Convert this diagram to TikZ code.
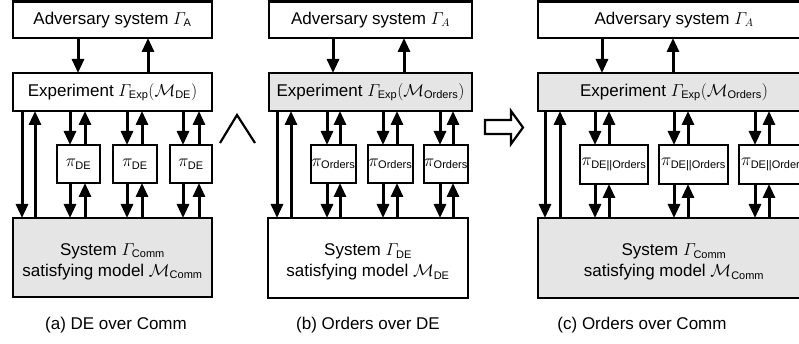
\documentclass[tikz,border=0pt]{standalone}
\usepackage{amsmath}
\usepackage{fontspec}
\setmainfont{Liberation Sans}
\usetikzlibrary{arrows.meta}
\DeclareMathSizes{17}{17}{11}{8}
\tikzset{
  box/.style={draw, line width=2.8pt, inner sep=0pt, outer sep=0pt, anchor=north west, align=center,
              font=\fontsize{17}{19}\selectfont},
  shaded/.style={fill=gray!20},
  arr/.style={line width=3pt, -{Triangle[length=14pt,width=12pt]}},
  txt/.style={font=\fontsize{17}{21}\selectfont, inner sep=0pt, align=center},
  captext/.style={font=\fontsize{17}{19}\selectfont, inner sep=0pt},
  symb/.style={line width=2.2pt, line join=miter},
}
\newcommand{\bx}[6]{\node[box,#6,minimum width=#4pt,minimum height=#5pt] (#1) at (#2,#3)}
\newcommand{\piarrows}[5]{%
  \draw[arr] (#1.south -| #4,0) -- (#2.north -| #4,0);
  \draw[arr] (#2.north -| #5,0) -- (#1.south -| #5,0);
  \draw[arr] (#2.south -| #4,0) -- (#3.north -| #4,0);
  \draw[arr] (#3.north -| #5,0) -- (#2.south -| #5,0);}
\begin{document}
\begin{tikzpicture}[x=1pt,y=-1pt]
\useasboundingbox (0,0) rectangle (799,344);
\clip (0,0) rectangle (799,344);
\fill[white] (0,0) rectangle (799,344);

% ---------- panel (a)
\bx{advA}{13}{1.5}{199}{36.5}{} {Adversary system $\varGamma_{\text{A}}$};
\bx{expA}{13}{73}{199}{38}{} {Experiment $\varGamma_{\text{Exp}}(\mathcal{M}_{\text{DE}})$};
\bx{sysA}{13}{218}{199}{79}{shaded} {};
\node[txt, yshift=-4pt] (sysAt) at (sysA.center) {System $\varGamma_{\text{Comm}}$\\satisfying model $\mathcal{M}_{\text{Comm}}$};
\bx{piA1}{57}{145}{43}{38}{} {$\pi_{\text{DE}}$};
\bx{piA2}{113}{145}{44}{38}{} {$\pi_{\text{DE}}$};
\bx{piA3}{170}{145}{42}{38}{} {$\pi_{\text{DE}}$};
\draw[arr] (advA.south -| 78,0) -- (expA.north -| 78,0);
\draw[arr] (expA.north -| 148,0) -- (advA.south -| 148,0);
\draw[arr] (expA.south -| 22,0) -- (sysA.north -| 22,0);
\draw[arr] (sysA.north -| 35,0) -- (expA.south -| 35,0);
\piarrows{expA}{piA1}{sysA}{70}{85}
\piarrows{expA}{piA2}{sysA}{127}{142}
\piarrows{expA}{piA3}{sysA}{183}{199}

% wedge
\draw[symb] (220,143) -- (237,115) -- (255,143);

% ---------- panel (b)
\bx{advB}{269}{1.5}{203}{36.5}{} {Adversary system $\varGamma_{A}$};
\bx{expB}{269}{73}{203}{38}{shaded} {Experiment $\varGamma_{\text{Exp}}(\mathcal{M}_{\text{Orders}})$};
\bx{sysB}{268}{218}{200}{80}{} {};
\node[txt, yshift=-4pt] (sysBt) at (sysB.center) {System $\varGamma_{\text{DE}}$\\satisfying model $\mathcal{M}_{\text{DE}}$};
\bx{piB1}{311}{145}{45}{38}{} {$\pi_{\text{Orders}}$};
\bx{piB2}{368}{145}{45}{38}{} {$\pi_{\text{Orders}}$};
\bx{piB3}{424}{145}{44}{38}{} {$\pi_{\text{Orders}}$};
\draw[arr] (advB.south -| 333,0) -- (expB.north -| 333,0);
\draw[arr] (expB.north -| 404,0) -- (advB.south -| 404,0);
\draw[arr] (expB.south -| 277,0) -- (sysB.north -| 277,0);
\draw[arr] (sysB.north -| 291,0) -- (expB.south -| 291,0);
\piarrows{expB}{piB1}{sysB}{327}{340}
\piarrows{expB}{piB2}{sysB}{383}{397}
\piarrows{expB}{piB3}{sysB}{440}{453}

% block arrow
\draw[symb] (485,120) -- (511,120) -- (511,111) -- (523,127.5) -- (511,144) -- (511,134) -- (485,134) -- cycle;

% ---------- panel (c)
\bx{advC}{538}{1.5}{272}{36.5}{} {Adversary system $\varGamma_{A}$};
\bx{expC}{538}{73}{272}{38}{shaded} {Experiment $\varGamma_{\text{Exp}}(\mathcal{M}_{\text{Orders}})$};
\bx{sysC}{538}{218}{272}{80}{shaded} {};
\node[txt, yshift=-4pt] (sysCt) at (sysC.center) {System $\varGamma_{\text{Comm}}$\\satisfying model $\mathcal{M}_{\text{Comm}}$};
\bx{piC1}{580}{145}{68}{39}{} {$\pi_{\text{DE||Orders}}$};
\bx{piC2}{659}{145}{69}{39}{} {$\pi_{\text{DE||Orders}}$};
\bx{piC3}{739}{145}{69}{39}{} {$\pi_{\text{DE||Orders}}$};
\draw[arr] (advC.south -| 602,0) -- (expC.north -| 602,0);
\draw[arr] (expC.north -| 673,0) -- (advC.south -| 673,0);
\draw[arr] (expC.south -| 545,0) -- (sysC.north -| 545,0);
\draw[arr] (sysC.north -| 560,0) -- (expC.south -| 560,0);
\piarrows{expC}{piC1}{sysC}{595}{609}
\piarrows{expC}{piC2}{sysC}{674}{688}
\piarrows{expC}{piC3}{sysC}{755}{769}

% captions
\node[captext] (capA) at (116,325) {(a) DE over Comm};
\node[captext] (capB) at (368,325) {(b) Orders over DE};
\node[captext] (capC) at (642,325) {(c) Orders over Comm};
\end{tikzpicture}
\end{document}
